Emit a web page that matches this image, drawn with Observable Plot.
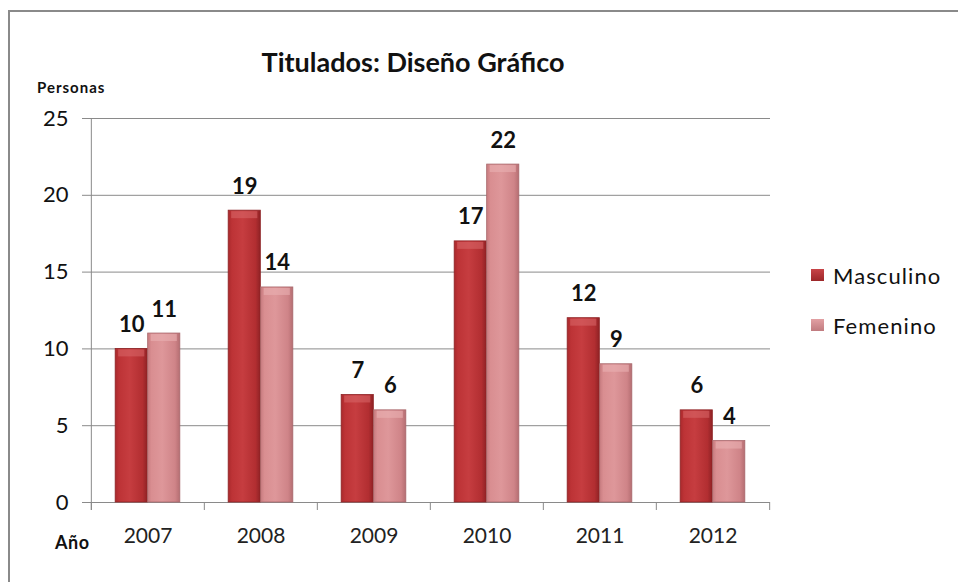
<!DOCTYPE html>
<html><head><meta charset="utf-8">
<script src="https://cdn.jsdelivr.net/npm/d3@7"></script>
<script src="https://cdn.jsdelivr.net/npm/@observablehq/plot@0.6"></script>
<style>
body{margin:0;background:#fff;}
#wrap{position:relative;width:958px;height:582px;overflow:hidden;font-family:Lato,"Open Sans",sans-serif;background:#fff;}
#frame{position:absolute;left:8px;top:10px;width:1000px;height:1000px;border:2px solid #8a8a8a;box-sizing:border-box;}
#chart{position:absolute;left:0;top:0;}
#title{position:absolute;left:0;width:826px;top:46px;text-align:center;font-weight:bold;font-size:27px;line-height:1.2;color:#111;}
#ylab{position:absolute;left:37px;top:78px;font-weight:bold;font-size:15px;letter-spacing:1px;line-height:1.2;color:#111;}
#xlab{position:absolute;left:55px;top:532px;font-weight:bold;font-size:18px;letter-spacing:0.5px;line-height:1.2;color:#111;}
#legend{position:absolute;left:811px;top:262px;font-size:22px;letter-spacing:1.1px;color:#111;}
.li{display:flex;align-items:center;height:26px;margin-bottom:24px;}
.sw{width:13px;height:12px;margin-right:9px;}
</style></head>
<body>
<div id="wrap">
  <div id="frame"></div>
  <div id="chart"></div>
  <div id="title">Titulados: Diseño Gráfico</div>
  <div id="ylab">Personas</div>
  <div id="xlab">Año</div>
  <div id="legend"></div>
</div>
<script>
const years = ["2007", "2008", "2009", "2010", "2011", "2012"];
const masculino = [10, 19, 7, 17, 12, 6];
const femenino = [11, 14, 6, 22, 9, 4];
const seriesNames = ["Masculino", "Femenino"];
const yTicks = [0, 5, 10, 15, 20, 25];

const rows = [];
years.forEach((yr, i) => {
  rows.push({year: yr, serie: seriesNames[0], value: masculino[i]});
  rows.push({year: yr, serie: seriesNames[1], value: femenino[i]});
});
const mRows = rows.filter(d => d.serie === "Masculino");
const fRows = rows.filter(d => d.serie === "Femenino");

const W = 958, H = 582, ML = 90, MR = 188, MT = 118, MB = 80;
const step = (W - ML - MR) / years.length;
const barW = 32.5;
const outer = (step - 2 * barW) / 2;
const below = 8 * 25 / (H - MT - MB); // tick length below axis in data units

const fills = {Masculino: "url(#gM)", Femenino: "url(#gF)"};
const tops = {Masculino: "#d9676a", Femenino: "#eab0b3"};

const chart = Plot.plot({
  width: W, height: H,
  marginLeft: ML, marginRight: MR, marginTop: MT, marginBottom: MB,
  style: {fontFamily: "Lato, 'Open Sans', sans-serif", background: "transparent"},
  x: {type: "band", domain: years, padding: 0, label: null},
  y: {domain: [0, 25], ticks: yTicks, label: null},
  marks: [
    Plot.ruleY(yTicks, {y: d => d, stroke: "#8a8a8a", strokeWidth: 1}),
    Plot.ruleX(years, {x: d => d, dx: -step / 2, y1: -below, y2: 0, stroke: "#8a8a8a"}),
    Plot.ruleX([years[years.length - 1]], {x: d => d, dx: step / 2, y1: -below, y2: 0, stroke: "#8a8a8a"}),
    Plot.ruleX([years[0]], {x: d => d, dx: -step / 2, y1: -below, y2: 25, stroke: "#8a8a8a"}),
    Plot.axisY({ticks: yTicks, tickSize: 8, tickPadding: 14, fontSize: 22, stroke: "#8a8a8a", color: "#111", label: null, tickFormat: d => String(d)}),
    Plot.axisX({tickSize: 0, tickPadding: 26, fontSize: 21, color: "#222", label: null}),
    Plot.barY(mRows, {x: "year", y: "value", fill: fills.Masculino, insetLeft: outer, insetRight: outer + barW, stroke: "#8e2426", strokeWidth: 0.8}),
    Plot.barY(fRows, {x: "year", y: "value", fill: fills.Femenino, insetLeft: outer + barW, insetRight: outer, stroke: "#a8676b", strokeWidth: 0.8}),
    Plot.tickY(mRows, {x: "year", y: "value", dy: 4, strokeWidth: 7, stroke: tops.Masculino, strokeOpacity: 0.55, insetLeft: outer + 3, insetRight: outer + barW + 3}),
    Plot.tickY(fRows, {x: "year", y: "value", dy: 4, strokeWidth: 7, stroke: tops.Femenino, strokeOpacity: 0.6, insetLeft: outer + barW + 3, insetRight: outer + 3}),
    Plot.text(mRows, {x: "year", y: "value", text: d => String(d.value), dx: -step / 2 + outer + barW / 2, dy: -17, lineAnchor: "bottom", fontSize: 22, fontWeight: "bold", fill: "#111"}),
    Plot.text(fRows, {x: "year", y: "value", text: d => String(d.value), dx: -step / 2 + outer + barW * 1.5, dy: -17, lineAnchor: "bottom", fontSize: 22, fontWeight: "bold", fill: "#111"})
  ]
});

const defs = `
<defs>
  <linearGradient id="gM" x1="0" x2="1" y1="0" y2="0">
    <stop offset="0" stop-color="#a9292c"/>
    <stop offset="0.12" stop-color="#bd3336"/>
    <stop offset="0.45" stop-color="#c63d40"/>
    <stop offset="0.85" stop-color="#b22e31"/>
    <stop offset="1" stop-color="#8f2225"/>
  </linearGradient>
  <linearGradient id="gF" x1="0" x2="1" y1="0" y2="0">
    <stop offset="0" stop-color="#c87c80"/>
    <stop offset="0.12" stop-color="#d98e91"/>
    <stop offset="0.45" stop-color="#de979a"/>
    <stop offset="0.85" stop-color="#cf8488"/>
    <stop offset="1" stop-color="#b56e72"/>
  </linearGradient>
</defs>`;
chart.insertAdjacentHTML("afterbegin", defs);
document.getElementById("chart").appendChild(chart);

const legend = document.getElementById("legend");
const swatchColors = {Masculino: "linear-gradient(#c84447,#9c2729)", Femenino: "linear-gradient(#e2a0a3,#c07b7f)"};
seriesNames.forEach(s => {
  const li = document.createElement("div");
  li.className = "li";
  const sw = document.createElement("div");
  sw.className = "sw";
  sw.style.background = swatchColors[s];
  const t = document.createElement("span");
  t.textContent = s;
  li.appendChild(sw); li.appendChild(t);
  legend.appendChild(li);
});
</script>
</body></html>
